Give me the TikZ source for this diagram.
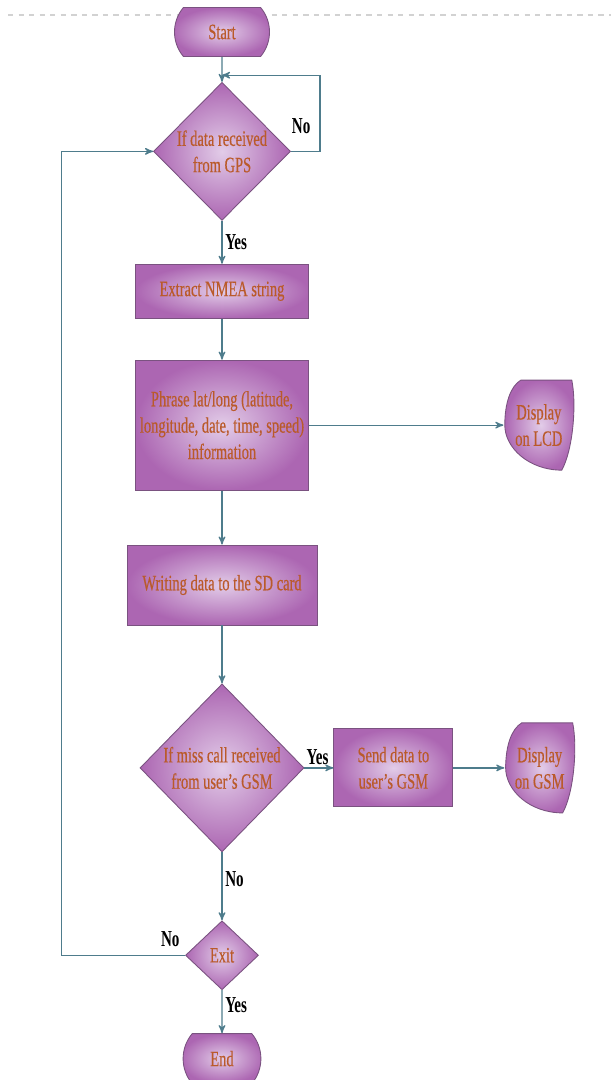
\documentclass[tikz,border=0pt]{standalone}
\usepackage{fontspec}
\newfontfamily\flowfont{Liberation Serif}[FakeStretch=0.66, FakeBold=0.4]
\newfontfamily\answerfont{Liberation Serif}[FakeStretch=0.66]
\usetikzlibrary{shapes.geometric,shapes.misc,arrows,positioning,calc}

\definecolor{boxlight}{RGB}{226,204,232}
\definecolor{boxdark}{RGB}{172,102,178}
\definecolor{boxedge}{RGB}{122,82,128}
\definecolor{txtorange}{RGB}{186,90,42}
\definecolor{linkblue}{RGB}{78,124,140}

\pgfdeclarelayer{background}
\pgfsetlayers{background,main}

\tikzset{
  shaded/.style={draw=boxedge, line width=0.5pt, inner color=boxlight, outer color=boxdark},
  box/.style={shaded, text=txtorange, font=\flowfont\fontsize{12.5}{15}\selectfont, align=center, inner sep=0pt},
  terminal/.style={box, rounded rectangle, rounded rectangle arc length=80},
  process/.style={box, rectangle},
  decision/.style={box, diamond, aspect=1},
  display/.style={text=txtorange, font=\flowfont\fontsize{12.5}{15}\selectfont, align=center,
    inner sep=0pt, minimum width=1.4cm, minimum height=1.84cm},
  link/.style={->, draw=linkblue, line width=0.7pt},
  answer/.style={font=\answerfont\bfseries\fontsize{13}{15}\selectfont, text=black, inner sep=1.5pt}
}

\newcommand\dispshape[1]{%
  \begin{pgfonlayer}{background}
    \shade[shaded, shift={(#1.center)}]
      (-0.36,0.9) -- (0.66,0.9) .. controls (0.76,0.4) and (0.68,-0.5) .. (0.46,-0.9)
      .. controls (-0.2,-0.9) and (-0.68,-0.45) .. (-0.68,0)
      .. controls (-0.68,0.45) and (-0.56,0.78) .. (-0.36,0.9) -- cycle;
  \end{pgfonlayer}}

\begin{document}
\begin{tikzpicture}[>=stealth']
    \useasboundingbox (0,0) rectangle (12.22,-21.6);
    \draw[gray!35, dashed, line width=0.6pt] (0.16,-0.3) -- (12.22,-0.3);

    \node[terminal, minimum width=1.9cm, minimum height=0.98cm] (start) at (4.44,-0.64) {Start};
    \node[decision, minimum width=2.74cm, minimum height=2.76cm, below=0.5cm of start] (gps) {If data received\\from GPS};
    \node[process, minimum width=3.46cm, minimum height=1.08cm, below=0.86cm of gps] (extract) {Extract NMEA string};
    \node[process, minimum width=3.46cm, minimum height=2.6cm, below=0.82cm of extract] (phrase) {Phrase lat/long (latitude,\\longitude, date, time, speed)\\information};
    \node[display, right=3.89cm of phrase] (lcd) {Display\\on LCD};
    \node[process, minimum width=3.8cm, minimum height=1.6cm, below=1.08cm of phrase] (writing) {Writing data to the SD card};
    \node[decision, minimum width=3.28cm, minimum height=3.36cm, below=1.16cm of writing] (call) {If miss call received\\from user’s GSM};
    \node[process, minimum width=2.38cm, minimum height=1.56cm, right=0.58cm of call] (send) {Send data to\\user’s GSM};
    \node[display, right=1.02cm of send] (gsm) {Display\\on GSM};
    \node[decision, minimum width=1.46cm, minimum height=1.38cm, below=1.36cm of call] (exit) {Exit};
    \node[terminal, minimum width=1.48cm, minimum height=1cm, below=0.86cm of exit] (finish) {End};

    \dispshape{lcd}
    \dispshape{gsm}

    \path (start.south) -- coordinate[pos=0.73] (merge) (gps.north);

    \draw[link] (start) -- (gps);
    \draw[link] (gps.east) -- node[answer, above=8pt, pos=0.35] {No} ++(0.58,0) |- (merge);
    \draw[link] (gps) -- node[answer, right] {Yes} (extract);
    \draw[link] (extract) -- (phrase);
    \draw[link] (phrase) -- (lcd);
    \draw[link] (phrase) -- (writing);
    \draw[link] (writing) -- (call);
    \draw[link] (call) -- node[answer, above, pos=0.45] {Yes} (send);
    \draw[link] (send) -- (gsm);
    \draw[link] (call) -- node[answer, right, pos=0.4] {No} (exit);
    \draw[link] (exit) -- node[answer, right, pos=0.35] {Yes} (finish);
    \draw[link] (exit.west) -- node[answer, above=3pt, pos=0.12] {No} ++(-2.47,0) |- (gps.west);
\end{tikzpicture}
\end{document}
